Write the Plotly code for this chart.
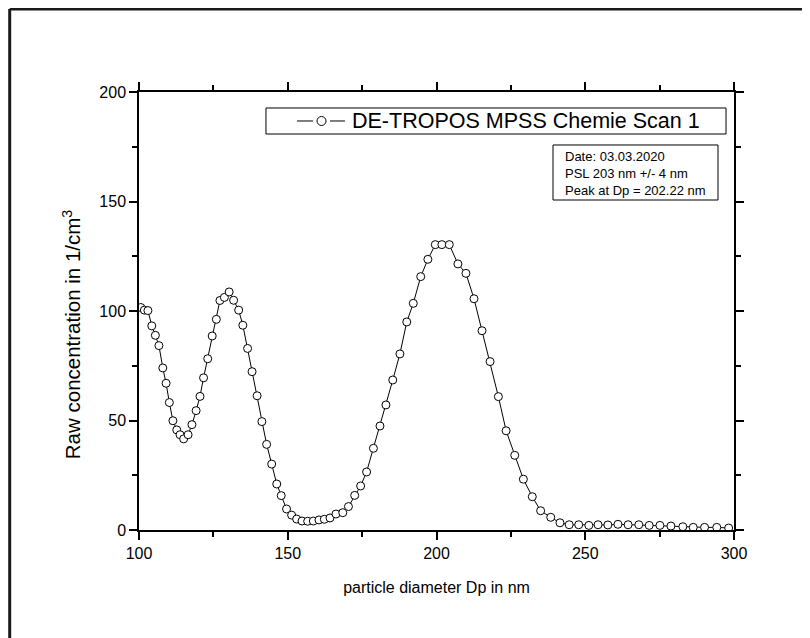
import plotly.graph_objects as go

# Particle diameter (nm) and raw concentration (1/cm^3)
dp = [100.6, 101.8, 103.0, 104.3, 105.5, 106.7, 108.0, 109.1, 110.2, 111.4,
      112.7, 113.8, 115.0, 116.5, 117.8, 119.2, 120.5, 121.7, 123.1, 124.6,
      126.0, 127.2, 128.7, 130.3, 131.8, 133.5, 134.9, 136.5, 138.0, 139.7,
      141.3, 142.9, 144.6, 146.3, 147.8, 149.6, 151.3, 153.0, 154.8, 156.7,
      158.6, 160.5, 162.3, 164.2, 166.2, 168.5, 170.4, 172.5, 174.5, 176.5,
      178.8, 181.0, 183.0, 185.3, 187.7, 190.0, 192.2, 194.7, 197.1, 199.6,
      201.8, 204.3, 207.2, 209.9, 212.6, 215.3, 218.0, 220.8, 223.4, 226.3,
      229.2, 232.2, 235.0, 238.4, 241.5, 244.6, 247.8, 251.2, 254.3, 257.6,
      261.0, 264.4, 268.0, 271.5, 275.1, 278.8, 282.8, 286.3, 290.1, 294.2,
      298.2]
conc = [101.6, 100.4, 100.2, 93.2, 88.9, 84.2, 74.0, 67.0, 58.2, 49.9,
        45.7, 43.5, 41.6, 43.5, 48.1, 54.5, 61.0, 69.5, 78.2, 88.6,
        96.2, 104.8, 106.2, 108.7, 104.9, 100.4, 93.5, 82.9, 72.3, 61.3,
        49.5, 39.1, 30.1, 21.0, 15.7, 9.6, 6.8, 5.0, 4.1, 4.0,
        4.1, 4.6, 4.9, 5.5, 7.3, 7.9, 10.7, 15.8, 20.1, 26.5,
        37.3, 47.5, 57.1, 68.5, 80.4, 95.0, 103.5, 115.7, 123.6, 130.3,
        130.3, 130.3, 121.5, 117.2, 105.6, 91.0, 76.9, 60.9, 45.3, 34.1,
        23.2, 15.2, 8.8, 5.8, 3.3, 2.4, 2.4, 2.1, 2.4, 2.3,
        2.6, 2.4, 2.4, 2.1, 2.1, 1.8, 1.5, 1.2, 1.2, 1.2,
        0.9]

series_name = "DE-TROPOS MPSS Chemie Scan 1"
info_lines = ["Date: 03.03.2020", "PSL 203 nm +/- 4 nm", "Peak at Dp = 202.22 nm"]
x_ticks = [100, 150, 200, 250, 300]
y_ticks = [0, 50, 100, 150, 200]
y_title = "Raw concentration in 1/cm<sup>3</sup>"
x_title = "particle diameter Dp in nm"

FONT = "Arial, Liberation Sans, sans-serif"

fig = go.Figure()
fig.add_trace(go.Scatter(
    x=dp, y=conc, mode="lines+markers", name=series_name,
    line=dict(color="black", width=1),
    marker=dict(symbol="circle", size=8, color="white",
                line=dict(color="black", width=1)),
    showlegend=False,
))

axis_common = dict(
    showline=True, linecolor="black", linewidth=1.5, mirror="ticks",
    ticks="outside", ticklen=8, tickwidth=1.5, tickcolor="black",
    showgrid=False, zeroline=False,
    tickfont=dict(family=FONT, size=16, color="black"),
)

fig.update_xaxes(
    range=[100, 300], tickvals=x_ticks,
    minor=dict(dtick=25, tick0=100, ticks="outside", ticklen=5, tickwidth=1.5, tickcolor="black"),
    title=dict(text=x_title, font=dict(family=FONT, size=16, color="black"), standoff=21),
    **axis_common)
fig.update_yaxes(
    range=[0, 200], tickvals=y_ticks,
    minor=dict(dtick=25, tick0=0, ticks="outside", ticklen=5, tickwidth=1.5, tickcolor="black"),
    **axis_common)

# y axis title (placed as rotated text to match the reference position)
fig.add_annotation(text=y_title, xref="paper", yref="paper", x=-0.1126, y=0.447,
                   xanchor="center", yanchor="middle", textangle=-90, showarrow=False,
                   font=dict(family=FONT, size=20.5, color="black"))

# legend box (drawn by hand to match the reference spacing)
fig.add_shape(type="rect", xref="paper", yref="paper",
              x0=0.2134, x1=0.9866, y0=0.9041, y1=0.9635,
              line=dict(color="black", width=1), fillcolor="white")
fig.add_shape(type="line", xref="paper", yref="paper",
              x0=0.2655, x1=0.2924, y0=0.9338, y1=0.9338,
              line=dict(color="black", width=1))
fig.add_shape(type="line", xref="paper", yref="paper",
              x0=0.3210, x1=0.3462, y0=0.9338, y1=0.9338,
              line=dict(color="black", width=1))
fig.add_shape(type="circle", xref="paper", yref="paper",
              x0=0.2992, x1=0.3143, y0=0.9235, y1=0.9441,
              line=dict(color="black", width=1), fillcolor="white")
fig.add_annotation(text=series_name, xref="paper", yref="paper", x=0.3546, y=0.9338,
                   xanchor="left", yanchor="middle", showarrow=False,
                   font=dict(family=FONT, size=21.5, color="black"))

# info box
fig.add_shape(type="rect", xref="paper", yref="paper",
              x0=0.6958, x1=0.9731, y0=0.7534, y1=0.879,
              line=dict(color="black", width=1), fillcolor="white")
for txt, yy in zip(info_lines, [0.8516, 0.8128, 0.7740]):
    fig.add_annotation(text=txt, xref="paper", yref="paper", x=0.7126, y=yy,
                       xanchor="left", yanchor="middle", showarrow=False,
                       font=dict(family=FONT, size=13, color="black"))

# outer frame (left and top edges; the others lie outside the picture)
fig.add_shape(type="line", xref="paper", yref="paper",
              x0=-0.2173, x1=-0.2173, y0=-0.3, y1=1.1895,
              line=dict(color="#1a1a1a", width=3), layer="above")
fig.add_shape(type="line", xref="paper", yref="paper",
              x0=-0.2173, x1=1.2, y0=1.1895, y1=1.1895,
              line=dict(color="#1a1a1a", width=3), layer="above")

fig.update_layout(
    width=794, height=630,
    margin=dict(l=131, r=68, t=84, b=108),
    paper_bgcolor="white", plot_bgcolor="white",
    font=dict(family=FONT, color="black"),
    showlegend=False,
)

fig.write_html("out.html")
